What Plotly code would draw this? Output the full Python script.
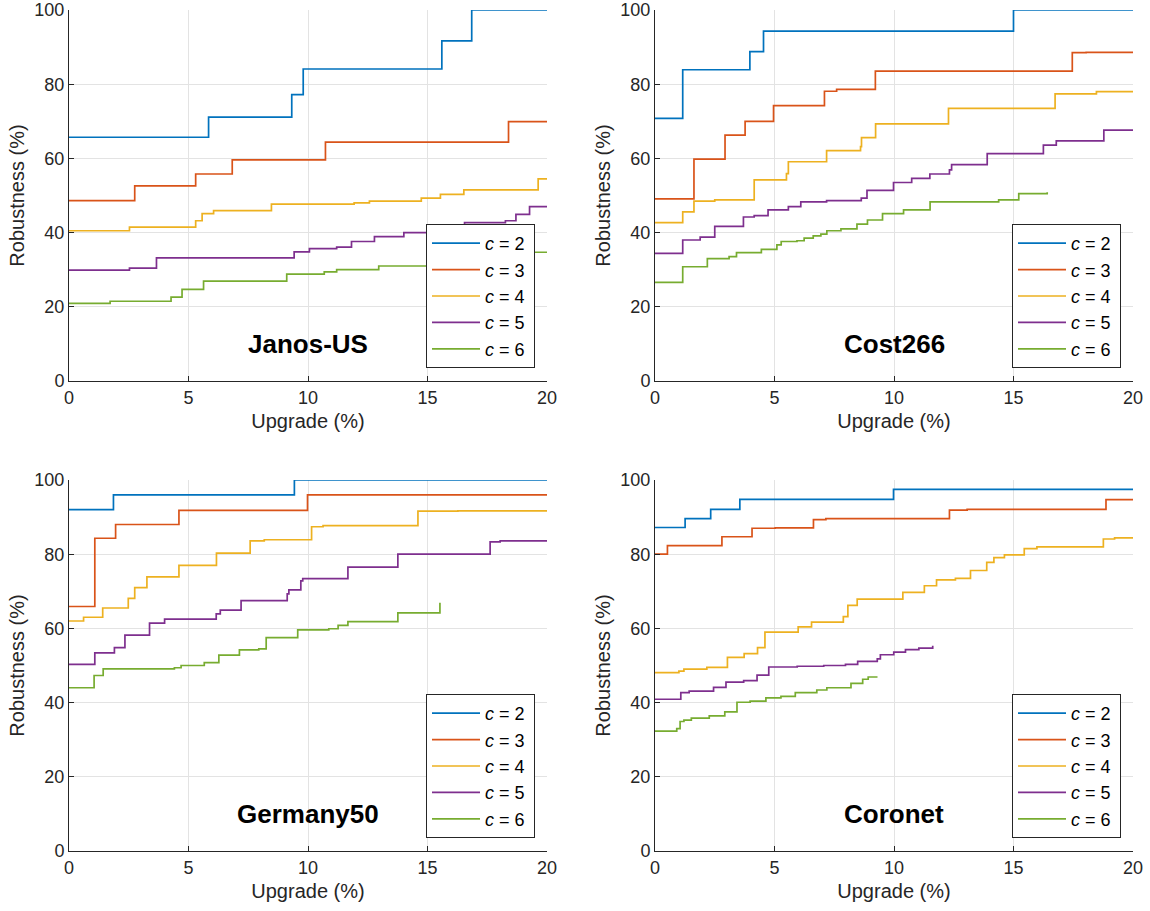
import plotly.graph_objects as go

# ---------------- data ----------------
series_labels = ["2", "3", "4", "5", "6"]
colors = ["#0072BD", "#D95319", "#EDB120", "#7E2F8E", "#77AC30"]
panel_names = ["Janos-US", "Cost266", "Germany50", "Coronet"]

# Janos-US
janos_x2 = [0, 5.84, 9.32, 9.8, 15.6, 16.85, 20]
janos_y2 = [65.7, 71.1, 77.2, 84.1, 91.7, 100, 100]
janos_x3 = [0, 2.75, 5.3, 6.83, 10.73, 18.39, 20]
janos_y3 = [48.6, 52.6, 55.8, 59.6, 64.4, 69.9, 69.9]
janos_x4 = [0, 2.53, 5.3, 5.57, 6.05, 8.47, 11.93, 12.57, 14.74, 15.54, 16.52, 19.63, 20]
janos_y4 = [40.5, 41.5, 43.2, 45.1, 45.9, 47.7, 48.0, 48.5, 49.3, 50.3, 51.5, 54.5, 54.5]
janos_x5 = [0, 2.53, 3.66, 9.42, 10.06, 11.2, 11.82, 12.78, 14.01, 16.3, 16.55, 18.26, 18.7, 19.27, 20]
janos_y5 = [29.9, 30.4, 33.2, 34.8, 35.7, 36.1, 37.6, 38.9, 40.0, 41.9, 42.7, 43.2, 44.9, 47.0, 47.0]
janos_x6 = [0, 1.72, 4.27, 4.73, 5.63, 9.11, 10.68, 11.2, 12.96, 15.3, 17.0, 18.6, 20]
janos_y6 = [20.9, 21.5, 22.6, 24.7, 26.9, 28.8, 29.4, 30.0, 31.0, 32.2, 33.5, 34.7, 34.7]

# Cost266
cost_x2 = [0, 1.16, 3.97, 4.54, 15.0, 20]
cost_y2 = [70.8, 83.9, 88.8, 94.3, 100, 100]
cost_x3 = [0, 1.63, 2.93, 3.77, 4.96, 7.09, 7.6, 9.22, 17.46, 18.04, 20]
cost_y3 = [49.1, 59.8, 66.3, 70.0, 74.2, 78.1, 78.6, 83.5, 88.5, 88.6, 88.6]
cost_x4 = [0, 1.16, 1.63, 2.5, 4.15, 5.5, 5.58, 7.18, 8.6, 8.64, 9.23, 12.28, 16.74, 18.47, 20]
cost_y4 = [42.7, 45.6, 48.5, 48.8, 54.2, 55.9, 59.1, 62.1, 63.2, 65.6, 69.3, 73.5, 77.4, 78.0, 78.0]
cost_x5 = [0, 1.16, 1.89, 2.5, 3.7, 4.15, 4.73, 5.58, 6.1, 7.18, 8.63, 8.87, 9.98, 10.74,
           11.5, 12.32, 12.41, 13.9, 16.25, 16.79, 18.78, 20]
cost_y5 = [34.4, 38.0, 38.8, 41.7, 44.2, 44.6, 46.1, 47.0, 48.3, 48.6, 49.3, 51.4, 53.5, 54.6,
           55.8, 56.9, 58.3, 61.3, 63.6, 64.7, 67.6, 67.6]
cost_x6 = [0, 1.16, 2.19, 3.1, 3.41, 4.45, 5.1, 5.28, 5.94, 6.24, 6.62, 6.94, 7.19, 7.78,
           8.45, 8.89, 9.52, 10.4, 11.51, 14.38, 15.22, 16.41]
cost_y6 = [26.6, 30.8, 33.0, 33.5, 34.6, 35.5, 36.7, 37.6, 37.8, 38.5, 39.1, 39.6, 40.5, 41.0,
           42.3, 43.4, 45.1, 46.1, 48.3, 48.8, 50.5, 50.9]

# Germany50
ger_x2 = [0, 1.86, 9.43, 20]
ger_y2 = [92.0, 96.0, 100, 100]
ger_x3 = [0, 1.08, 1.95, 4.6, 9.98, 20]
ger_y3 = [65.9, 84.3, 88.0, 91.8, 96.0, 96.0]
ger_x4 = [0, 0.61, 1.41, 2.48, 2.75, 3.26, 4.6, 6.17, 7.58, 8.17, 10.15, 10.63, 14.6, 16.27, 20]
ger_y4 = [62.0, 63.0, 65.5, 68.1, 71.0, 73.9, 77.0, 80.3, 83.6, 83.9, 87.4, 87.7, 91.6, 91.7, 91.7]
ger_x5 = [0, 1.08, 1.9, 2.34, 3.37, 4.0, 6.16, 6.33, 7.2, 9.13, 9.2, 9.7, 9.78, 11.67, 13.76,
          17.62, 18.04, 20]
ger_y5 = [50.3, 53.4, 54.8, 58.2, 61.4, 62.5, 63.9, 64.9, 67.5, 69.3, 70.4, 72.8, 73.4, 76.5,
          80.0, 83.3, 83.6, 83.6]
ger_x6 = [0, 1.05, 1.43, 4.41, 4.69, 5.66, 6.27, 7.13, 7.94, 8.25, 9.57, 10.87, 11.26, 11.67,
          13.76, 15.52]
ger_y6 = [44.0, 47.3, 49.1, 49.4, 50.0, 50.8, 52.8, 54.2, 54.5, 57.5, 59.6, 59.9, 60.8, 61.8,
          64.2, 66.9]

# Coronet
cor_x2 = [0, 1.26, 2.33, 3.55, 9.98, 20]
cor_y2 = [87.2, 89.6, 92.1, 94.8, 97.5, 97.5]
cor_x3 = [0, 0.52, 2.8, 4.06, 5.03, 6.63, 7.15, 12.32, 13.06, 18.87, 20]
cor_y3 = [80.0, 82.3, 84.7, 87.0, 87.1, 89.3, 89.6, 91.9, 92.1, 94.7, 94.7]
cor_x4 = [0, 1.0, 1.21, 2.17, 3.03, 3.73, 4.29, 4.6, 5.99, 6.55, 7.88, 8.07, 8.46, 10.37,
          11.27, 11.78, 12.57, 13.2, 13.88, 14.18, 14.62, 15.45, 15.98, 18.76, 19.23, 20]
cor_y4 = [48.1, 48.5, 49.0, 49.5, 52.2, 53.2, 54.8, 59.0, 60.4, 61.7, 63.2, 66.2, 67.9, 69.7,
          71.5, 73.1, 73.5, 75.6, 77.8, 79.1, 79.8, 81.5, 82.0, 84.1, 84.4, 84.4]
cor_x5 = [0, 1.08, 1.43, 2.45, 2.97, 3.71, 4.27, 4.76, 5.95, 7.06, 7.97, 8.48, 9.3, 9.43,
          9.99, 10.48, 11.04, 11.62]
cor_y5 = [40.9, 42.7, 43.1, 44.1, 45.5, 45.9, 47.4, 49.6, 49.8, 50.0, 50.3, 51.1, 51.8, 52.9,
          53.6, 54.3, 54.7, 55.3]
cor_x6 = [0, 0.91, 1.05, 1.21, 1.52, 2.27, 2.92, 3.43, 3.98, 4.64, 5.27, 5.87, 6.77, 7.19,
          8.2, 8.69, 8.92, 9.31]
cor_y6 = [32.3, 33.0, 34.9, 35.3, 35.8, 36.4, 37.5, 40.1, 40.4, 41.3, 41.7, 42.7, 43.4, 44.0,
          45.2, 46.3, 46.9, 46.9]

x_ticks = [0, 5, 10, 15, 20]
y_ticks = [0, 20, 40, 60, 80, 100]

panels = [
    [(janos_x2, janos_y2), (janos_x3, janos_y3), (janos_x4, janos_y4), (janos_x5, janos_y5), (janos_x6, janos_y6)],
    [(cost_x2, cost_y2), (cost_x3, cost_y3), (cost_x4, cost_y4), (cost_x5, cost_y5), (cost_x6, cost_y6)],
    [(ger_x2, ger_y2), (ger_x3, ger_y3), (ger_x4, ger_y4), (ger_x5, ger_y5), (ger_x6, ger_y6)],
    [(cor_x2, cor_y2), (cor_x3, cor_y3), (cor_x4, cor_y4), (cor_x5, cor_y5), (cor_x6, cor_y6)],
]

# ---------------- layout ----------------
W, H = 1150, 911
FONT = "Liberation Sans, Arial, Helvetica, sans-serif"
TXT = "#262626"

# pixel boxes of the 4 axes: (left, right, top, bottom)
boxes = [(69, 547, 10, 381), (655, 1133, 10, 381), (69, 547, 480, 851), (655, 1133, 480, 851)]

fig = go.Figure()
layout = dict(
    width=W, height=H, margin=dict(l=0, r=0, t=0, b=0, autoexpand=False),
    paper_bgcolor="white", plot_bgcolor="white",
    font=dict(family=FONT, color=TXT, size=18),
    annotations=[],
)

for p, (series, box) in enumerate(zip(panels, boxes)):
    idx = "" if p == 0 else str(p + 1)
    xa, ya = "x" + idx, "y" + idx
    leg = "legend" + idx
    for (xs, ys), lab, col in zip(series, series_labels, colors):
        fig.add_trace(go.Scatter(
            x=xs, y=ys, mode="lines", line=dict(color=col, width=1.7, shape="hv"),
            name="<i>c</i> = " + lab + "\u2009", xaxis=xa, yaxis=ya, legend=leg, hoverinfo="skip",
        ))
    l, r, t, b = box
    common = dict(showgrid=True, gridcolor="#e3e3e3", gridwidth=1, zeroline=False,
                  showline=True, linecolor=TXT, linewidth=1, mirror=False,
                  ticks="inside", ticklen=5, tickcolor=TXT, tickwidth=1,
                  tickfont=dict(size=18, color=TXT), fixedrange=True, automargin=False)
    layout["xaxis" + idx] = dict(common, domain=[l / W, r / W], range=[0, 20],
                                 tickvals=x_ticks, anchor=ya,
                                 title=dict(text="Upgrade (%)", font=dict(size=20), standoff=7))
    layout["yaxis" + idx] = dict(common, domain=[1 - b / H, 1 - t / H], range=[0, 100],
                                 tickvals=y_ticks, anchor=xa,
                                 title=dict(text="Robustness (%)", font=dict(size=20), standoff=4))
    layout[leg] = dict(
        x=(r - 12) / W, y=1 - (b - 13) / H, xanchor="right", yanchor="bottom",
        bgcolor="white", bordercolor=TXT, borderwidth=1,
        font=dict(size=18, color="black", family=FONT), tracegroupgap=0,
        itemwidth=48,
    )
    layout["annotations"].append(dict(
        x=10, y=10, xref=xa, yref=ya, text="<b>" + panel_names[p] + "</b>",
        showarrow=False, font=dict(size=26, color="black", family=FONT),
        xanchor="center", yanchor="middle",
    ))

fig.update_layout(**layout)
fig.write_html("out.html")
